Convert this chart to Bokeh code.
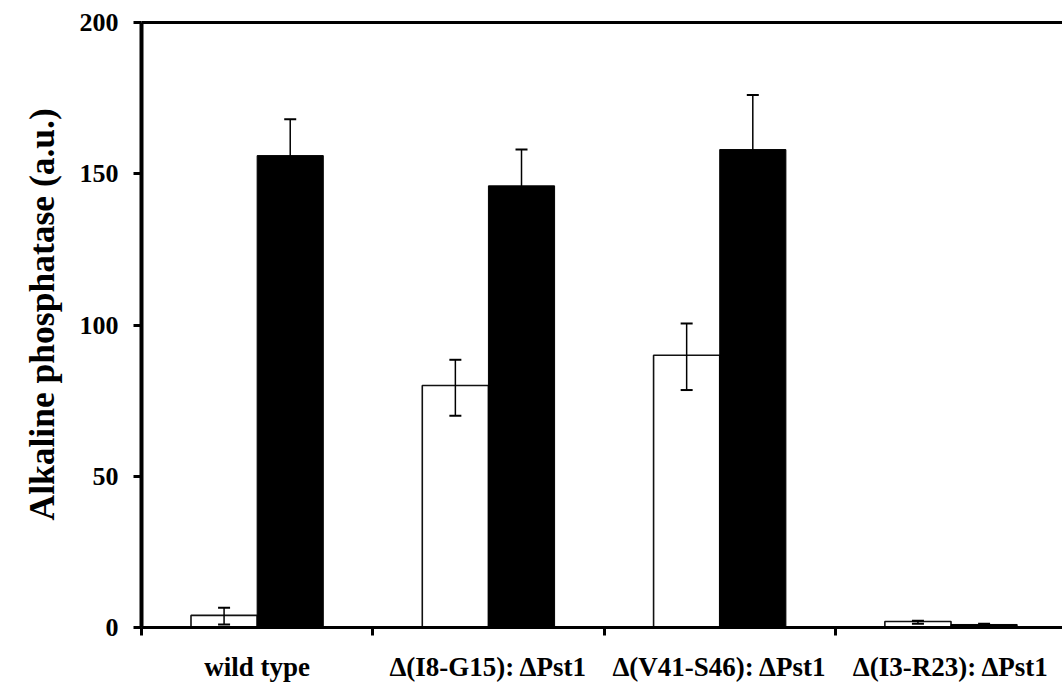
from bokeh.plotting import figure
from bokeh.models import FixedTicker, Range1d, LinearAxis, Whisker, ColumnDataSource, Title
from bokeh.embed import file_html
from bokeh.resources import INLINE

categories = ["wild type", "Δ(I8-G15): ΔPst1", "Δ(V41-S46): ΔPst1", "Δ(I3-R23): ΔPst1"]
white_values = [4, 80, 90, 2]
white_upper = [6.5, 88.5, 100.5, 2.2]
white_lower = [1, 70, 78.5, 1.2]
black_values = [156, 146, 158, 1]
black_upper = [168, 158, 176, 1.2]
black_lower = [144, 134, 140, 0.8]
y_ticks = [0, 50, 100, 150, 200]
group_centers = [0.5, 1.5, 2.5, 3.5]
group_edges = [0, 1, 2, 3]
bar_width = 0.286
FONT = "Liberation Serif"

W, H = 1062, 687
p = figure(width=W, height=H, frame_width=921, frame_height=605,
           output_backend="svg", toolbar_location=None,
           x_range=Range1d(0, 3.982), y_range=Range1d(0, 200),
           min_border_left=141, min_border_right=0, min_border_top=22, min_border_bottom=60,
           outline_line_color=None, background_fill_color="white", border_fill_color="white")
p.grid.visible = False

xw = [c - bar_width / 2 for c in group_centers]
xb = [c + bar_width / 2 for c in group_centers]
src_w = ColumnDataSource(dict(x=xw, top=white_values, up=white_upper, lo=white_lower))
src_b = ColumnDataSource(dict(x=xb, top=black_values, up=black_upper, lo=black_lower))
p.vbar(x="x", top="top", width=bar_width, bottom=0, source=src_w, fill_color="white",
       line_color="#111111", line_width=1.6)
p.vbar(x="x", top="top", width=bar_width, bottom=0, source=src_b, fill_color="black",
       line_color="black", line_width=1)
for s in (src_w, src_b):
    w = Whisker(base="x", upper="up", lower="lo", source=s, line_color="black", line_width=1.5,
                level="overlay")
    w.upper_head.size = 12
    w.lower_head.size = 12
    w.upper_head.line_width = 2
    w.lower_head.line_width = 2
    p.add_layout(w)

ya = p.yaxis[0]
ya.ticker = FixedTicker(ticks=y_ticks, minor_ticks=[])
ya.axis_line_width = 4
ya.major_tick_line_width = 3
ya.major_tick_in = 0
ya.major_tick_out = 8
ya.major_label_text_font = FONT
ya.major_label_text_font_style = "bold"
ya.major_label_text_font_size = "26px"
ya.major_label_text_color = "black"
ya.major_label_standoff = 15

p.add_layout(Title(text="Alkaline phosphatase (a.u.)", align="left", offset=107, standoff=30,
                   text_font=FONT, text_font_style="bold", text_font_size="35.5px",
                   text_color="black"), "left")

xa = p.xaxis[0]
xa.ticker = FixedTicker(ticks=group_centers, minor_ticks=group_edges)
xa.major_label_overrides = {c: t for c, t in zip(group_centers, categories)}
xa.axis_line_width = 3
xa.major_tick_in = 0
xa.major_tick_out = 0
xa.minor_tick_in = 0
xa.minor_tick_out = 8
xa.minor_tick_line_width = 3
xa.major_label_text_font = FONT
xa.major_label_text_font_style = "bold"
xa.major_label_text_font_size = "27px"
xa.major_label_text_color = "black"
xa.major_label_standoff = 16

top = LinearAxis(ticker=FixedTicker(ticks=[]), axis_line_width=3,
                 major_label_text_font_size="0px", major_tick_line_color=None, minor_tick_line_color=None)
p.add_layout(top, "above")

open("out.html", "w").write(file_html(p, INLINE))
